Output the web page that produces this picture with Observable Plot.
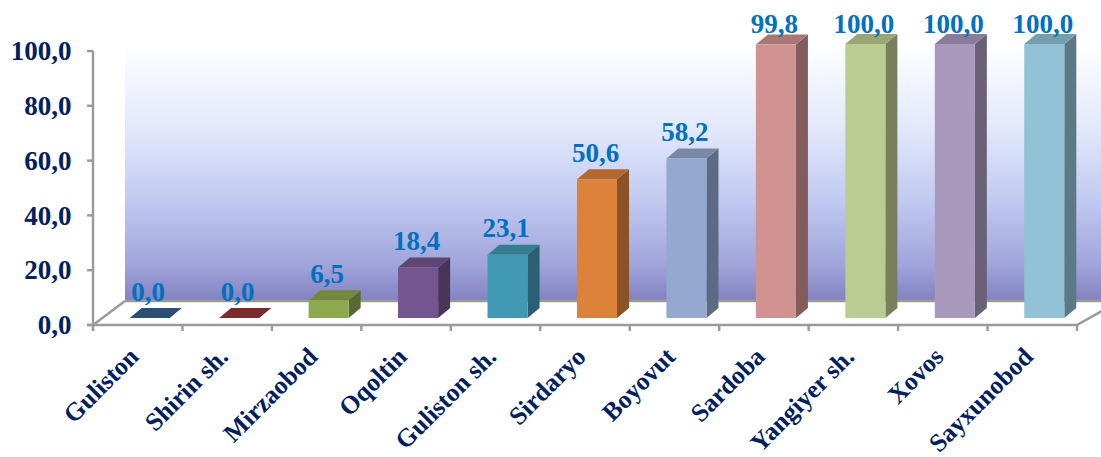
<!DOCTYPE html>
<html><head><meta charset="utf-8">
<style>html,body{margin:0;padding:0;background:#fff}svg{display:block}</style>
<script src="https://cdn.jsdelivr.net/npm/d3@7"></script>
<script src="https://cdn.jsdelivr.net/npm/@observablehq/plot@0.6"></script>
</head><body><div id="chart"></div>
<script>
const categories = ["Guliston","Shirin sh.","Mirzaobod","Oqoltin","Guliston sh.","Sirdaryo","Boyovut","Sardoba","Yangiyer sh.","Xovos","Sayxunobod"];
const values = [0,0,6.5,18.4,23.1,50.6,58.2,99.8,100,100,100];
const colors = ["#376092","#953735","#8EA84E","#75558F","#4299B3","#DC823B","#95A8D0","#D09391","#BBCC93","#A99ABD","#92C2D5"];
const yTicks = [0,20,40,60,80,100];
const rows = categories.map((name,i)=>({name,value:values[i],color:colors[i]}));
const fmt = v => d3.format(".1f")(v).replace(".",",");

const depthX = 12, depthY = 10, barDx = 12, barInset = 24.7, baseLift = 7;
const wallDx = 32, wallDy = 24, wallTopExtra = 17;
const axisGray = "#9a9a9a";
const NS = "http://www.w3.org/2000/svg";
const el = (tag, attrs, parent) => { const n = document.createElementNS(NS, tag); for (const k in attrs) n.setAttribute(k, attrs[k]); if (parent) parent.appendChild(n); return n; };
const poly = (g, pts, fill) => el("polygon",{points:pts.map(p=>p.join(",")).join(" "),fill},g);
const seg = (g,x1,y1,x2,y2,w=2.4) => el("line",{x1,y1,x2,y2,stroke:axisGray,"stroke-width":w},g);

function scene(index, scales) {
  const g = el("g",{});
  const defs = el("defs",{},g);
  const grad = el("linearGradient",{id:"wallGrad",x1:0,y1:0,x2:0,y2:1},defs);
  [[0,"#ffffff"],[0.33,"#e2e8fb"],[0.62,"#bfc8f0"],[0.86,"#a0a4da"],[1,"#8382c0"]].forEach(([o,c])=>el("stop",{offset:o,"stop-color":c},grad));
  const bw = scales.x.bandwidth();
  const x0 = scales.x(categories[0]), x1 = scales.x(categories[categories.length-1])+bw;
  const y0 = scales.y(0), y100 = scales.y(100);
  const backY = y0 - wallDy, topY = y100 - wallDy + wallTopExtra;
  el("rect",{x:x0+wallDx,y:topY,width:x1-x0,height:backY-topY,fill:"url(#wallGrad)"},g);
  seg(g,x0+wallDx,backY,x1+wallDx-8,backY);
  seg(g,x0,y0,x0+wallDx,backY);
  seg(g,x1,y0,x1+wallDx,backY+6);
  seg(g,x0,y100,x0,y0+6);
  seg(g,x0-6,y0,x1,y0);
  yTicks.forEach(t=>seg(g,x0-6,scales.y(t),x0,scales.y(t)));
  categories.forEach(c=>seg(g,scales.x(c),y0,scales.x(c),y0+6));
  seg(g,x1,y0,x1,y0+6);
  return g;
}
function faces(index, scales) {
  const g = el("g",{});
  rows.forEach(r=>{
    const bw = scales.x.bandwidth();
    const l = scales.x(r.name)+barInset+barDx, w = bw-2*barInset, R = l+w;
    const b = scales.y(0)-baseLift, t = scales.y(r.value)-baseLift;
    const c = d3.color(r.color);
    poly(g,[[R,t],[R+depthX,t-depthY],[R+depthX,b-depthY],[R,b]],c.darker(1.3).formatHex());
    poly(g,[[l,t],[l+depthX,t-depthY],[R+depthX,t-depthY],[R,t]],c.darker(0.6).formatHex());
  });
  return g;
}
const labelStyle = {x:"name",y:"value",text:d=>fmt(d.value),dx:barDx-2,lineAnchor:"bottom",fill:"#0070C0",fontFamily:"Liberation Serif",fontWeight:700,fontSize:27};

const plot = Plot.plot({
  width:1101, height:457,
  marginLeft:93, marginRight:24, marginTop:51, marginBottom:132,
  style:{background:"transparent",overflow:"visible"},
  x:{type:"band",domain:categories,padding:0,round:false,label:null},
  y:{domain:[0,100],label:null},
  marks:[
    scene,
    faces,
    Plot.barY(rows,{x:"name",y:"value",fill:"color",dx:barDx,dy:-baseLift,insetLeft:barInset,insetRight:barInset}),
    Plot.text(rows.filter(d=>d.value<99),{...labelStyle,dy:-25}),
    Plot.text(rows.filter(d=>d.value>=99),{...labelStyle,dy:-19}),
    Plot.axisY({ticks:yTicks,tickFormat:fmt,tickSize:0,tickPadding:22,fill:"#002060",fontFamily:"Liberation Serif",fontWeight:700,fontSize:27,label:null}),
    Plot.axisX({tickSize:0,tickRotate:-45,tickPadding:27,dx:-4,fill:"#002060",fontFamily:"Liberation Serif",fontWeight:700,fontSize:25.5,label:null})
  ]
});
document.getElementById("chart").appendChild(plot);
</script></body></html>
